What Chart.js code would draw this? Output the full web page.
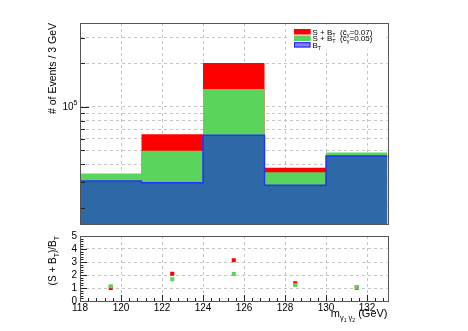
<!DOCTYPE html>
<html><head><meta charset="utf-8">
<script src="https://cdn.jsdelivr.net/npm/chart.js@4"></script>
<style>
html,body{margin:0;padding:0;background:#fff;}
#wrap{position:relative;width:468px;height:331px;overflow:hidden;}
#top{position:absolute;left:0;top:0;}
#bot{position:absolute;left:0;top:226px;}
</style></head><body>
<div id="wrap"><canvas id="top" width="468" height="226"></canvas><canvas id="bot" width="468" height="105"></canvas></div>
<script>
// ---- data ----
const binEdges = [118, 121, 124, 127, 130, 133];
const binCenters = [119.5, 122.5, 125.5, 128.5, 131.5];
const bkgT = [30600, 29800, 63400, 28700, 45600];
const sigBkg005 = [34600, 49600, 132600, 35300, 48300];
const sigBkg007 = [31000, 64400, 200500, 37800, 47000];
const ratio007 = [1.00, 2.10, 3.13, 1.36, 1.03];
const ratio005 = [1.13, 1.67, 2.08, 1.23, 1.08];
const xTicks = [118, 120, 122, 124, 126, 128, 130, 132];
const yTopTicks = [20000, 30000, 40000, 50000, 60000, 70000, 80000, 90000, 100000, 200000, 300000];
const yRatioTicks = [0, 1, 2, 3, 4, 5];

const FONT = "'Liberation Sans', Arial, Helvetica, sans-serif";
Chart.defaults.font.family = FONT;
Chart.defaults.animation = false;

const RED = '#ff0000', GREEN = '#5ad45a', BLUE = '#2d69a6', LINE = '#2233ff';
const GRID = '#c6c6c6', FRAME = '#555555';

function drawRich(ctx, parts, x, y, align, rot) {
  ctx.save();
  ctx.translate(x, y);
  ctx.rotate(rot || 0);
  let w = 0;
  parts.forEach(p => { ctx.font = p.s + 'px ' + FONT; p.w = ctx.measureText(p.t).width; w += p.w; });
  let cx = align === 'right' ? -w : (align === 'center' ? -w / 2 : 0);
  ctx.textAlign = 'left';
  ctx.textBaseline = 'alphabetic';
  ctx.fillStyle = '#000';
  parts.forEach(p => { ctx.font = p.s + 'px ' + FONT; ctx.fillText(p.t, cx, p.dy || 0); cx += p.w; });
  ctx.restore();
}

function drawFrameAndTicks(chart, yT, xT) {
  const {ctx, chartArea: a} = chart;
  ctx.save();
  ctx.strokeStyle = '#222';
  ctx.lineWidth = 1;
  yT.forEach(([v, len]) => {
    const y = Math.round(chart.scales.y.getPixelForValue(v)) + 0.5;
    ctx.beginPath(); ctx.moveTo(a.left, y); ctx.lineTo(a.left + len, y); ctx.stroke();
  });
  xT.forEach(([v, len]) => {
    const x = Math.round(chart.scales.x.getPixelForValue(v)) + 0.5;
    ctx.beginPath(); ctx.moveTo(x, a.bottom); ctx.lineTo(x, a.bottom - len); ctx.stroke();
  });
  ctx.strokeStyle = FRAME;
  ctx.strokeRect(Math.round(a.left) + 0.5, Math.round(a.top) + 0.5,
                 Math.round(a.right) - Math.round(a.left), Math.round(a.bottom) - Math.round(a.top));
  ctx.restore();
}

// histogram as step points at bin edges (last bin value repeated at the upper edge)
function histPoints(vals) {
  return binEdges.map((x, i) => ({x: x, y: vals[Math.min(i, vals.length - 1)]}));
}
const topYTickMarks = yTopTicks.map(v => [v, v === 100000 ? 9 : 5]);

const topPlugin = {
  id: 'topDeco',
  afterDatasetsDraw(chart) {
    const {ctx, chartArea: a} = chart;
    drawFrameAndTicks(chart, topYTickMarks, []);
    const y5 = chart.scales.y.getPixelForValue(100000);
    drawRich(ctx, [{t: '10', s: 10}, {t: '5', s: 7, dy: -5}], 77.5, y5 + 3.5, 'right', 0);
    drawRich(ctx, [{t: '# of Events / 3 GeV', s: 10.5}], 56, a.top, 'right', -Math.PI / 2);
    // legend
    ctx.save();
    ctx.fillStyle = '#fff';
    ctx.fillRect(289, 25, 97, 24);
    const rows = [
      {fill: RED, stroke: RED, y: 29, parts: [{t: 'S + B', s: 8}, {t: 'T', s: 5.5, dy: 2}, {t: '  (c\u0303', s: 8}, {t: '\u03b3', s: 5.5, dy: 2}, {t: '=0.07)', s: 8}]},
      {fill: GREEN, stroke: GREEN, y: 35.7, parts: [{t: 'S + B', s: 8}, {t: 'T', s: 5.5, dy: 2}, {t: '  (c\u0303', s: 8}, {t: '\u03b3', s: 5.5, dy: 2}, {t: '=0.05)', s: 8}]},
      {fill: '#8080ff', stroke: '#2020ff', y: 42.2, parts: [{t: 'B', s: 8}, {t: 'T', s: 5.5, dy: 2}]}
    ];
    rows.forEach(r => {
      ctx.fillStyle = r.fill;
      ctx.fillRect(294, r.y, 16.5, 5.3);
      ctx.strokeStyle = r.stroke; ctx.lineWidth = 1;
      ctx.strokeRect(294.5, r.y + 0.5, 15.5, 4.3);
      drawRich(ctx, r.parts, 312.5, r.y + 5.6, 'left', 0);
    });
    ctx.restore();
  }
};

new Chart(document.getElementById('top'), {
  type: 'line',
  data: {
    datasets: [
      {label: 'B_T outline', data: histPoints(bkgT), stepped: 'before', borderColor: LINE, borderWidth: 1.5,
       pointRadius: 0, fill: false, order: 0},
      {label: 'B_T', data: histPoints(bkgT), stepped: 'before', borderWidth: 0, borderColor: 'rgba(0,0,0,0)',
       backgroundColor: BLUE, pointRadius: 0, fill: 'start', order: 1},
      {label: 'S + B_T (c=0.05)', data: histPoints(sigBkg005), stepped: 'before', borderWidth: 0, borderColor: 'rgba(0,0,0,0)',
       backgroundColor: GREEN, pointRadius: 0, fill: 'start', order: 2},
      {label: 'S + B_T (c=0.07)', data: histPoints(sigBkg007), stepped: 'before', borderWidth: 0, borderColor: 'rgba(0,0,0,0)',
       backgroundColor: RED, pointRadius: 0, fill: 'start', order: 3}
    ]
  },
  options: {
    responsive: false,
    animation: false,
    layout: {padding: {left: 0, right: 80.5, top: 23, bottom: 1.7}},
    plugins: {legend: {display: false}, tooltip: {enabled: false}},
    scales: {
      x: {
        type: 'linear', min: 118, max: 133, offset: false,
        afterBuildTicks: s => { s.ticks = xTicks.map(v => ({value: v})); },
        afterFit: s => { s.height = 0; },
        ticks: {display: false, autoSkip: false},
        grid: {drawTicks: false, offset: false, color: GRID, lineWidth: 1},
        border: {display: false, dash: [3, 3]}
      },
      y: {
        type: 'logarithmic', min: 15400, max: 378000,
        afterBuildTicks: s => { s.ticks = yTopTicks.map(v => ({value: v})); },
        afterFit: s => { s.width = 80; },
        ticks: {display: false, autoSkip: false},
        grid: {drawTicks: false, color: GRID, lineWidth: 1},
        border: {display: false, dash: [3, 3]}
      }
    }
  },
  plugins: [topPlugin]
});

// ---- ratio panel ----
const ratioYMarks = [];
for (let i = 0; i <= 25; i++) ratioYMarks.push([i * 0.2, i % 5 === 0 ? 7 : 3.5]);
const ratioXMarks = [];
for (let i = 0; i <= 37; i++) { const v = 118 + i * 0.4; ratioXMarks.push([v, i % 5 === 0 ? 6 : 3]); }

const botPlugin = {
  id: 'botDeco',
  afterDatasetsDraw(chart) {
    const {ctx, chartArea: a} = chart;
    drawFrameAndTicks(chart, ratioYMarks, ratioXMarks);
    drawRich(ctx, [{t: '(S + B', s: 10}, {t: 'T', s: 7, dy: 3}, {t: ')/B', s: 10}, {t: 'T', s: 7, dy: 3}],
             56, a.top, 'right', -Math.PI / 2);
    drawRich(ctx, [{t: 'm', s: 11}, {t: '\u03b3', s: 7.5, dy: 3}, {t: '1', s: 5, dy: 5}, {t: ' \u03b3', s: 7.5, dy: 3},
                   {t: '2', s: 5, dy: 5}, {t: ' (GeV)', s: 11}], a.right, 317 - 226, 'right', 0);
  }
};

new Chart(document.getElementById('bot'), {
  type: 'scatter',
  data: {
    datasets: [
      {label: 'ratio 0.05', data: binCenters.map((x, i) => ({x: x, y: ratio005[i]})), backgroundColor: GREEN,
       pointStyle: 'rect', pointRadius: 2.9, borderWidth: 0, order: 0},
      {label: 'ratio 0.07', data: binCenters.map((x, i) => ({x: x, y: ratio007[i]})), backgroundColor: RED,
       pointStyle: 'rect', pointRadius: 2.9, borderWidth: 0, order: 1}
    ]
  },
  options: {
    responsive: false,
    animation: false,
    layout: {padding: {left: 0, right: 80.5, top: 10, bottom: 0}},
    plugins: {legend: {display: false}, tooltip: {enabled: false}},
    scales: {
      x: {
        type: 'linear', min: 118, max: 133,
        afterBuildTicks: s => { s.ticks = xTicks.map(v => ({value: v})); },
        afterFit: s => { s.height = 30; },
        ticks: {autoSkip: false, maxRotation: 0, padding: 1, color: '#000', font: {size: 10}, callback: v => String(v)},
        grid: {drawTicks: false, offset: false, color: GRID, lineWidth: 1},
        border: {display: false, dash: [3, 3]}
      },
      y: {
        type: 'linear', min: 0, max: 5,
        afterBuildTicks: s => { s.ticks = yRatioTicks.map(v => ({value: v})); },
        afterFit: s => { s.width = 80; },
        ticks: {autoSkip: false, padding: 3, color: '#000', font: {size: 10}, callback: v => String(v)},
        grid: {drawTicks: false, color: GRID, lineWidth: 1},
        border: {display: false, dash: [3, 3]}
      }
    }
  },
  plugins: [botPlugin]
});
</script>
</body></html>
